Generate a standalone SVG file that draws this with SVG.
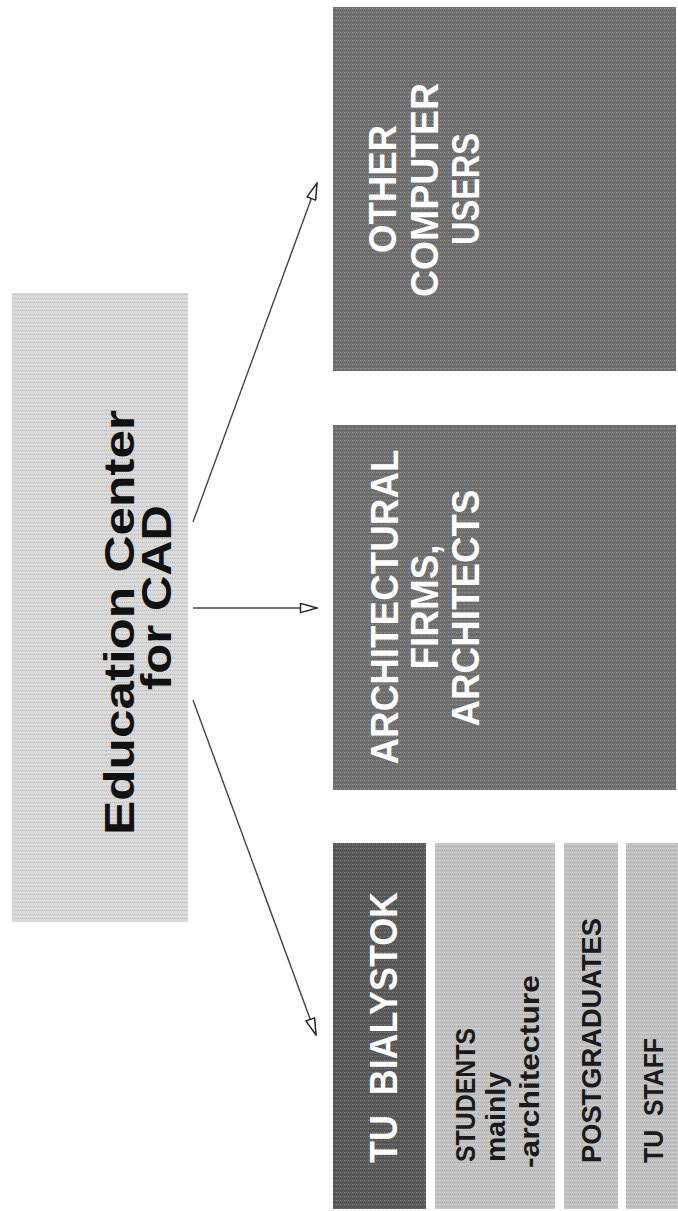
<svg xmlns="http://www.w3.org/2000/svg" width="678" height="1211" viewBox="0 0 678 1211">
<defs>
<style>
.t{font-family:"Liberation Sans",Arial,sans-serif;}
.w{fill:#ffffff;font-weight:bold;font-size:38px;}
.k{fill:#1a1a1a;font-weight:bold;font-size:28px;}
.kn{fill:#1a1a1a;font-weight:bold;font-size:28px;}
.e{fill:#111111;font-weight:bold;font-size:43px;}
.dark{fill:#717171;}
.darker{fill:#5a5a5a;}
.light{fill:#c3c3c3;}
.pale{fill:#d8d8d8;}
.conn{stroke:#444;stroke-width:1.4;fill:none;marker-end:url(#tri);}
</style>
<pattern id="dots" width="4" height="4" patternUnits="userSpaceOnUse">
<rect x="0" y="0" width="1" height="1" fill="#ffffff" fill-opacity="0.25"/>
<rect x="2" y="2" width="1" height="1" fill="#000000" fill-opacity="0.18"/>
<rect x="2" y="0" width="1" height="1" fill="#ffffff" fill-opacity="0.12"/>
<rect x="0" y="2" width="1" height="1" fill="#000000" fill-opacity="0.1"/>
</pattern>
<marker id="tri" viewBox="0 0 20 12" refX="19" refY="6" markerWidth="19" markerHeight="11" markerUnits="userSpaceOnUse" orient="auto">
<path d="M1,1 L19,6 L1,11 Z" fill="#ffffff" stroke="#222" stroke-width="1.6" stroke-linejoin="miter"/>
</marker>
</defs>
<rect x="0" y="0" width="678" height="1211" fill="#ffffff"/>

<g id="education">
<rect class="pale" x="12" y="293" width="176" height="629"/>
<rect x="12" y="293" width="176" height="629" fill="url(#dots)"/>
<text class="t e" transform="translate(134,835) rotate(-90)" textLength="425" lengthAdjust="spacingAndGlyphs">Education Center</text>
<text class="t e" transform="translate(171,690) rotate(-90)" textLength="185" lengthAdjust="spacingAndGlyphs">for CAD</text>
</g>

<g id="connectors">
<path class="conn" d="M193,522 L317,183"/>
<path class="conn" d="M193,608 L317,608"/>
<path class="conn" d="M193,700 L316,1035"/>
</g>

<g id="other-users">
<rect class="dark" x="333" y="7" width="343" height="364"/>
<rect x="333" y="7" width="343" height="364" fill="url(#dots)"/>
<text class="t w" text-anchor="middle" transform="translate(396,189) rotate(-90)" textLength="128" lengthAdjust="spacingAndGlyphs">OTHER</text>
<text class="t w" text-anchor="middle" transform="translate(438,190) rotate(-90)" textLength="214" lengthAdjust="spacingAndGlyphs">COMPUTER</text>
<text class="t w" text-anchor="middle" transform="translate(479,189) rotate(-90)" textLength="112" lengthAdjust="spacingAndGlyphs">USERS</text>
</g>

<g id="architects">
<rect class="dark" x="333" y="425" width="343" height="365"/>
<rect x="333" y="425" width="343" height="365" fill="url(#dots)"/>
<text class="t w" text-anchor="middle" transform="translate(398,607) rotate(-90)" textLength="315" lengthAdjust="spacingAndGlyphs">ARCHITECTURAL</text>
<text class="t w" text-anchor="middle" transform="translate(438,607) rotate(-90)" textLength="125" lengthAdjust="spacingAndGlyphs">FIRMS,</text>
<text class="t w" text-anchor="middle" transform="translate(479,608) rotate(-90)" textLength="237" lengthAdjust="spacingAndGlyphs">ARCHITECTS</text>
</g>

<g id="tu-bialystok">
<rect class="darker" x="333" y="843" width="93" height="366"/>
<rect x="333" y="843" width="93" height="366" fill="url(#dots)"/>
<text class="t w" xml:space="preserve" transform="translate(397,1163) rotate(-90)" textLength="271" lengthAdjust="spacingAndGlyphs">TU  BIALYSTOK</text>
</g>

<g id="students">
<rect class="light" x="435" y="843" width="120" height="366"/>
<rect x="435" y="843" width="120" height="366" fill="url(#dots)"/>
<text class="t k" transform="translate(475,1162) rotate(-90)" textLength="134" lengthAdjust="spacingAndGlyphs">STUDENTS</text>
<text class="t kn" transform="translate(505,1162) rotate(-90)" textLength="90" lengthAdjust="spacingAndGlyphs">mainly</text>
<text class="t kn" transform="translate(539,1168) rotate(-90)" textLength="193" lengthAdjust="spacingAndGlyphs">-architecture</text>
</g>

<g id="postgraduates">
<rect class="light" x="564" y="843" width="54" height="366"/>
<rect x="564" y="843" width="54" height="366" fill="url(#dots)"/>
<text class="t k" transform="translate(601,1163) rotate(-90)" textLength="245" lengthAdjust="spacingAndGlyphs">POSTGRADUATES</text>
</g>

<g id="tu-staff">
<rect class="light" x="626" y="843" width="52" height="366"/>
<rect x="626" y="843" width="52" height="366" fill="url(#dots)"/>
<text class="t k" xml:space="preserve" transform="translate(663,1163) rotate(-90)" textLength="125" lengthAdjust="spacingAndGlyphs">TU  STAFF</text>
</g>
</svg>
